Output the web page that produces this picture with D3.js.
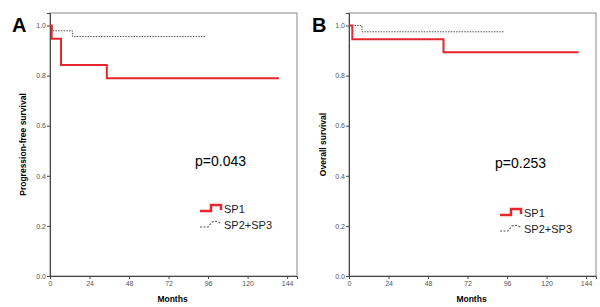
<!DOCTYPE html>
<html>
<head>
<meta charset="utf-8">
<script src="https://cdn.jsdelivr.net/npm/d3@7"></script>
<style>
  body { margin: 0; background: #fff; }
  text { font-family: Arial, "Liberation Sans", sans-serif; }
</style>
</head>
<body>
<div id="chart"></div>
<script>
//***************** data *******************/
var xTicks = [0, 24, 48, 72, 96, 120, 144];
var yTicks = [0.0, 0.2, 0.4, 0.6, 0.8, 1.0];
var seriesNames = ["SP1", "SP2+SP3"];

// panel A: progression-free survival
var pfsSp1Months = [0, 1, 6.7, 34.5, 139];
var pfsSp1Surv   = [1.0, 0.947, 0.842, 0.789, 0.789];
var pfsSp23Months = [0, 1.4, 13.6, 94.3];
var pfsSp23Surv   = [1.0, 0.979, 0.956, 0.956];

// panel B: overall survival
var osSp1Months = [0, 2, 57.4, 139.4];
var osSp1Surv   = [1.0, 0.945, 0.893, 0.893];
var osSp23Months = [0, 7.9, 94.3];
var osSp23Surv   = [1.0, 0.975, 0.975];

var panels = [
  {letter: "A", ylabel: "Progression-free survival", pval: "p=0.043",
   sp1: [pfsSp1Months, pfsSp1Surv], sp23: [pfsSp23Months, pfsSp23Surv],
   left: 50, letterX: 12, ylabX: 26, pX: 195, pY: 166, legY: 208},
  {letter: "B", ylabel: "Overall survival", pval: "p=0.253",
   sp1: [osSp1Months, osSp1Surv], sp23: [osSp23Months, osSp23Surv],
   left: 349, letterX: 312, ylabX: 326, pX: 495, pY: 168, legY: 212}
];

//************* dimensions ***************/
var W = 600, H = 307;
var plotW = 247, plotTop = 13, plotBottom = 276;
var red = "#e5262c", gray = "#555";

var svg = d3.select("#chart").append("svg")
  .attr("width", W).attr("height", H);

function toPoints(arr) {
  return arr[0].map(function(m, i) { return [m, arr[1][i]]; });
}

panels.forEach(function(p) {
  var x = d3.scaleLinear().domain([0, 150]).range([p.left, p.left + plotW]);
  var y = d3.scaleLinear().domain([0, 1.05]).range([plotBottom, plotTop]);

  // frame
  svg.append("rect")
    .attr("x", p.left).attr("y", plotTop)
    .attr("width", plotW).attr("height", plotBottom - plotTop)
    .attr("fill", "none").attr("stroke", "#8a8a8a").attr("stroke-width", 1);

  // axes
  var xAxis = svg.append("g")
    .attr("transform", "translate(0," + plotBottom + ")")
    .call(d3.axisBottom(x).tickValues(xTicks).tickSize(3).tickPadding(2));
  var yAxis = svg.append("g")
    .attr("transform", "translate(" + p.left + ",0)")
    .call(d3.axisLeft(y).tickValues(yTicks).tickSize(3).tickPadding(1)
      .tickFormat(d3.format(".1f")));
  [xAxis, yAxis].forEach(function(g) {
    g.select(".domain").attr("stroke", "#444");
    g.selectAll(".tick line").attr("stroke", "#444");
    g.selectAll(".tick text").attr("font-size", "7px").attr("fill", "#555")
      .attr("font-family", "Arial, 'Liberation Sans', sans-serif");
  });

  // curves
  var line = d3.line()
    .x(function(d) { return x(d[0]); })
    .y(function(d) { return y(d[1]); })
    .curve(d3.curveStepAfter);

  svg.append("path")
    .attr("d", line(toPoints(p.sp23)))
    .attr("fill", "none").attr("stroke", gray)
    .attr("stroke-width", 1).attr("stroke-dasharray", "1.5,1.2");

  svg.append("path")
    .attr("d", line(toPoints(p.sp1)))
    .attr("fill", "none").attr("stroke", red).attr("stroke-width", 2);

  // labels
  svg.append("text")
    .attr("x", p.letterX).attr("y", 32)
    .attr("font-size", "20px").attr("font-weight", "bold")
    .text(p.letter);

  svg.append("text")
    .attr("transform", "translate(" + p.ylabX + "," + ((plotTop + plotBottom) / 2) + ") rotate(-90)")
    .attr("text-anchor", "middle")
    .attr("font-size", "8.5px").attr("font-weight", "bold")
    .text(p.ylabel);

  svg.append("text")
    .attr("x", p.left + plotW / 2 - 1).attr("y", 302)
    .attr("text-anchor", "middle")
    .attr("font-size", "8.5px").attr("font-weight", "bold")
    .text("Months");

  svg.append("text")
    .attr("x", p.pX).attr("y", p.pY)
    .attr("font-size", "14px")
    .text(p.pval);

  // legend
  var lx = p.pX + 5, ly = p.legY;
  svg.append("path")
    .attr("d", "M" + lx + "," + (ly + 3) + "H" + (lx + 11) + "V" + (ly - 3) + "H" + (lx + 21) + "V" + (ly + 2))
    .attr("fill", "none").attr("stroke", red).attr("stroke-width", 2.5);
  svg.append("path")
    .attr("d", "M" + lx + "," + (ly + 19) + "H" + (lx + 8) + "L" + (lx + 12) + "," + (ly + 14) + "Q" + (lx + 17) + "," + (ly + 12) + " " + (lx + 21) + "," + (ly + 16))
    .attr("fill", "none").attr("stroke", gray)
    .attr("stroke-width", 1.1).attr("stroke-dasharray", "2,1.5");
  seriesNames.forEach(function(name, i) {
    svg.append("text")
      .attr("x", lx + 24).attr("y", ly + 5 + i * 16)
      .attr("font-size", "11px").attr("fill", "#222")
      .text(name);
  });
});
</script>
</body>
</html>
